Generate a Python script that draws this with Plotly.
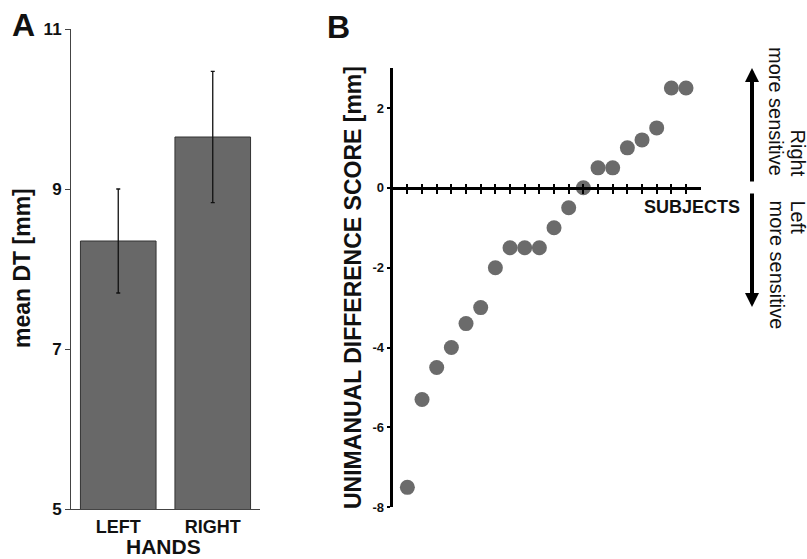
import plotly.graph_objects as go

W, H = 807, 559
FONT = "Liberation Sans, Arial, sans-serif"

# ---- data ----
hands = ["LEFT", "RIGHT"]
mean_dt = [8.35, 9.65]
mean_dt_err = [0.65, 0.82]
dt_ticks = [5, 7, 9, 11]

subjects = list(range(1, 21))
diff_scores = [-7.5, -5.3, -4.5, -4.0, -3.4, -3.0, -2.0, -1.5, -1.5, -1.5,
               -1.0, -0.5, 0.0, 0.5, 0.5, 1.0, 1.2, 1.5, 2.5, 2.5]
diff_ticks = [-8, -6, -4, -2, 0, 2]
diff_ticktext = ["-8", "-6", "-4", "-2", "0", "2"]


def px(x):
    return x / W


def py(y):
    return 1 - y / H


fig = go.Figure()

# Panel A bars
fig.add_trace(go.Bar(
    x=hands, y=mean_dt, width=0.8,
    marker=dict(color="#686868", line=dict(color="#333333", width=1)),
    error_y=dict(type="data", array=mean_dt_err, color="#111111", thickness=1.3, width=2),
    xaxis="x", yaxis="y", showlegend=False,
))

# Panel B points
fig.add_trace(go.Scatter(
    x=subjects, y=diff_scores, mode="markers",
    marker=dict(color="#6b6b6b", size=15, line=dict(width=0)),
    xaxis="x2", yaxis="y2", showlegend=False,
))

# empty trace so the second (inside-tick) x axis renders
fig.add_trace(go.Scatter(x=[None], y=[None], xaxis="x3", yaxis="y2",
                         showlegend=False, hoverinfo="skip"))

yB0, yB1 = py(507.3), py(68)
ymin, ymax = -8, 3
zero_pos = yB0 + (0 - ymin) / (ymax - ymin) * (yB1 - yB0)

axis_font_A = dict(family=FONT, size=17, color="#111111", weight="bold")
axis_font_B = dict(family=FONT, size=13, color="#111111", weight="bold")

fig.update_layout(
    width=W, height=H,
    margin=dict(l=0, r=0, t=0, b=0, pad=0, autoexpand=False),
    paper_bgcolor="white", plot_bgcolor="white",
    font=dict(family=FONT, color="#111111"),
    showlegend=False,
    xaxis=dict(domain=[px(71), px(260)], range=[-0.5, 1.5], anchor="y",
               showline=True, linecolor="#444444", linewidth=1, ticks="",
               showgrid=False, zeroline=False, automargin=False,
               tickfont=dict(family=FONT, size=18, color="#111111", weight="bold"),
               ticklabelstandoff=1, fixedrange=True),
    yaxis=dict(domain=[py(509), py(29)], range=[5, 11], anchor="x",
               tickvals=dt_ticks, showline=True, linecolor="#444444", linewidth=1,
               ticks="outside", ticklen=5, tickcolor="#444444", automargin=False,
               showgrid=False, zeroline=False, tickfont=axis_font_A),
    xaxis2=dict(domain=[px(392.7), px(700.7)], range=[0, 21], anchor="free",
                position=zero_pos, showline=True, linecolor="black", linewidth=3,
                tickvals=subjects, ticks="outside", ticklen=4, tickwidth=2,
                tickcolor="black", showticklabels=False, showgrid=False,
                zeroline=False, automargin=False),
    xaxis3=dict(domain=[px(392.7), px(700.7)], range=[0, 21], anchor="free",
                position=zero_pos, overlaying="x2", matches="x2", showline=False,
                tickvals=subjects, ticks="inside", ticklen=4, tickwidth=2,
                tickcolor="black", showticklabels=False, showgrid=False,
                zeroline=False, automargin=False),
    yaxis2=dict(domain=[yB0, yB1], range=[ymin, ymax], anchor="x2",
                tickvals=diff_ticks, ticktext=diff_ticktext,
                showline=True, linecolor="black", linewidth=3,
                ticks="outside", ticklen=3, tickwidth=2, tickcolor="black",
                showgrid=False, zeroline=False, automargin=False,
                tickfont=axis_font_B),
)

ann = []


def text(t, x, y, size, bold=True, angle=0, yanchor="middle"):
    ann.append(dict(text=t, x=px(x), y=py(y), xref="paper", yref="paper",
                    showarrow=False, xanchor="center", yanchor=yanchor,
                    textangle=angle, borderpad=0,
                    font=dict(family=FONT, size=size, color="#111111",
                              weight="bold" if bold else "normal")))


text("A", 23, 25, 32)
text("B", 338, 27, 32)
text("mean DT [mm]", 22, 268, 23, angle=-90)
text("HANDS", 163, 559, 21, yanchor="bottom")
text("UNIMANUAL DIFFERENCE SCORE [mm]", 353, 288, 23, angle=-90)
text("SUBJECTS", 692, 207, 18)
text("Right", 797, 152.5, 20, bold=False, angle=90)
text("more sensitive", 776, 111, 20, bold=False, angle=90)
text("Left", 797, 217.5, 20, bold=False, angle=90)
text("more sensitive", 776, 264.5, 20, bold=False, angle=90)

# arrows
for tip_y, tail_y in [(68, 183), (307, 192)]:
    ann.append(dict(text="", x=px(752), y=py(tip_y), xref="paper", yref="paper",
                    ax=0, ay=tail_y - tip_y, axref="pixel", ayref="pixel",
                    showarrow=True, arrowhead=2, arrowsize=0.7, arrowwidth=4,
                    arrowcolor="black", standoff=0, startstandoff=0))

fig.update_layout(annotations=ann)

fig.write_html(
    "out.html",
    config={"displayModeBar": False},
    post_script="document.body.style.margin='0';document.body.style.padding='0';"
                "document.documentElement.style.overflow='hidden';",
)
